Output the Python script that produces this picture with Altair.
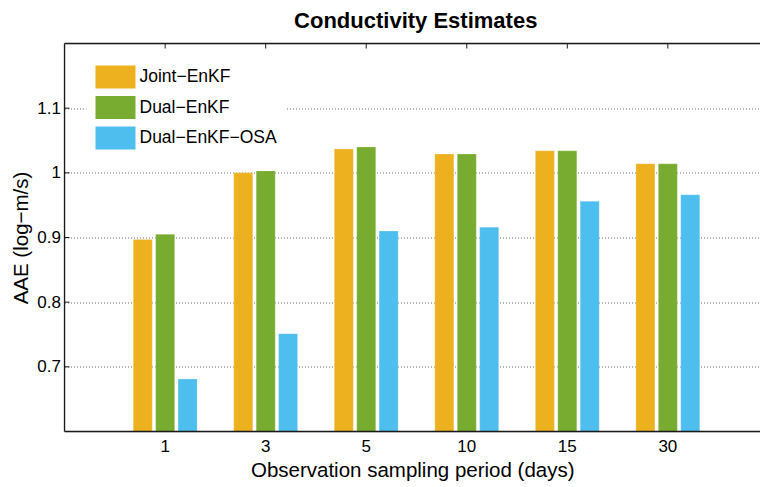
import altair as alt
import pandas as pd

# Observation sampling periods (days) and AAE of the conductivity estimates
periods = ["1", "3", "5", "10", "15", "30"]
methods = ["Joint\u2212EnKF", "Dual\u2212EnKF", "Dual\u2212EnKF\u2212OSA"]
joint_enkf = [0.897, 1.000, 1.037, 1.029, 1.034, 1.014]
dual_enkf = [0.905, 1.003, 1.040, 1.029, 1.034, 1.014]
dual_enkf_osa = [0.681, 0.751, 0.910, 0.916, 0.956, 0.966]
colors = ["#EDB120", "#77AC30", "#4DBEEE"]
y_ticks = [0.7, 0.8, 0.9, 1.0, 1.1]

rows = []
for name, vals in zip(methods, [joint_enkf, dual_enkf, dual_enkf_osa]):
    for p, v in zip(periods, vals):
        rows.append({"period": p, "method": name, "aae": v})
df = pd.DataFrame(rows)

FONT = "Liberation Sans"
INK = "#1a1a1a"

x_scale = alt.Scale(domain=periods, paddingInner=0, paddingOuter=0.459, align=0.546)
y_scale = alt.Scale(domain=[0.6, 1.2], zero=False, nice=False)

# wide rectangular legend swatch (23 px tall, 40 px wide, left-aligned)
swatch = "M-1,-1L2.478,-1L2.478,1L-1,1Z"

bars = alt.Chart(df).mark_bar(
    clip=True, stroke="white", strokeOpacity=0.35, strokeWidth=0.6
).encode(
    x=alt.X("period:N", scale=x_scale, sort=periods,
            axis=alt.Axis(title="Observation sampling period (days)", labelAngle=0,
                          ticks=False, domain=False, labelPadding=7, titlePadding=6,
                          labelFontSize=17, titleFontSize=20.5, titleFontWeight="normal")),
    xOffset=alt.XOffset("method:N", sort=methods,
                        scale=alt.Scale(domain=methods, paddingInner=0.152, paddingOuter=0.818)),
    y=alt.Y("aae:Q", scale=y_scale,
            axis=alt.Axis(title="AAE (log\u2212m/s)", values=y_ticks, format="~g",
                          ticks=False, domain=False, labelPadding=4, titlePadding=5,
                          labelFontSize=17, titleFontSize=20.5, titleFontWeight="normal",
                          grid=True, gridDash=[1, 2], gridColor="#6e6e6e", gridWidth=1)),
    color=alt.Color("method:N", sort=methods,
                    scale=alt.Scale(domain=methods, range=colors),
                    legend=alt.Legend(title=None, orient="none", legendX=22, legendY=13,
                                      fillColor="white", padding=9, rowPadding=7.5,
                                      symbolType=swatch, symbolSize=529,
                                      symbolStrokeWidth=0, symbolOpacity=1,
                                      labelOffset=21, labelFontSize=17.5,
                                      labelColor="black", labelFont=FONT)),
)

# inward tick marks on the top edge at each category
top_ticks = alt.Chart(pd.DataFrame({"period": periods})).mark_rule(
    color=INK, strokeWidth=1
).encode(
    x=alt.X("period:N", bandPosition=0.5, sort=periods, scale=x_scale),
    y=alt.value(0),
    y2=alt.value(5),
)

# inward tick marks on the left edge
left_ticks = alt.Chart(pd.DataFrame({"v": y_ticks})).mark_rule(
    color=INK, strokeWidth=1
).encode(
    y=alt.Y("v:Q", scale=y_scale),
    x=alt.value(0),
    x2=alt.value(5),
)

# axes box: left, top and bottom edges of the plot area
frame = pd.DataFrame({"edge": ["left", "top", "bottom"]})
box_left = alt.Chart(frame).transform_filter("datum.edge == 'left'").mark_rule(
    color=INK, strokeWidth=1.3
).encode(x=alt.value(0), y=alt.value(0), y2=alt.value("height"))
box_top = alt.Chart(frame).transform_filter("datum.edge == 'top'").mark_rule(
    color=INK, strokeWidth=1.3
).encode(x=alt.value(0), x2=alt.value("width"), y=alt.value(0))
box_bottom = alt.Chart(frame).transform_filter("datum.edge == 'bottom'").mark_rule(
    color=INK, strokeWidth=1.5
).encode(x=alt.value(0), x2=alt.value("width"), y=alt.value("height"))

chart = alt.layer(bars, top_ticks, left_ticks, box_left, box_top, box_bottom).properties(
    width=695.5,
    height=388,
    padding={"left": 64.5, "top": 43.5, "right": 0, "bottom": 55.5},
    autosize=alt.AutoSizeParams(type="none"),
    title=alt.TitleParams("Conductivity Estimates", fontSize=22, fontWeight="bold",
                          font=FONT, color="black", offset=10, dx=3.5),
).configure_view(
    stroke=None
).configure_axis(
    labelFont=FONT, titleFont=FONT, labelColor=INK, titleColor=INK,
).configure(background="white")

chart.save("out.html", embed_options={"renderer": "svg", "actions": False})
